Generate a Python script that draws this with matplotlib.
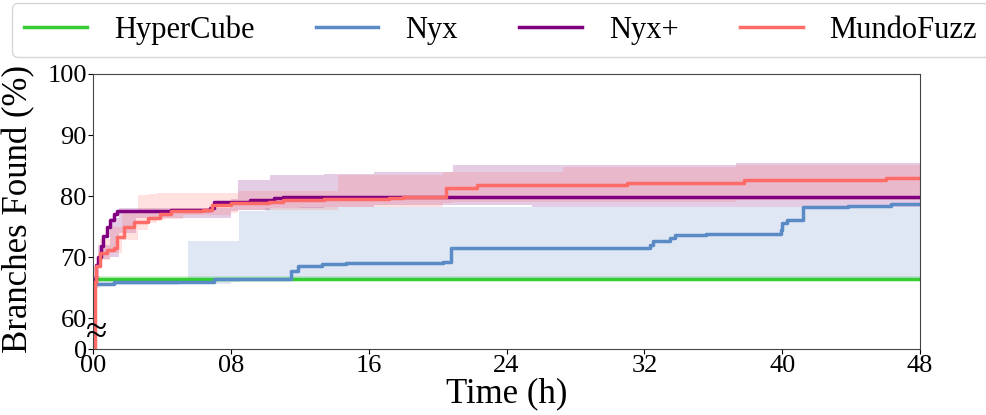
import matplotlib
matplotlib.use("Agg")
import matplotlib.pyplot as plt
import numpy as np

plt.rcParams['font.family'] = ['Liberation Serif', 'DejaVu Serif']

names = ["HyperCube", "Nyx", "Nyx+", "MundoFuzz"]
colors = ["#33cc33", "#5b8bc6", "#800080", "#ff6b66"]

# time (h) and median coverage (%)
hc_t = [0, 0.05, 48]
hc_y = [0, 66.5, 66.5]
hc_lo = [0, 66.2, 66.2]
hc_hi = [0, 66.9, 66.9]

nyx_t = [0, 0.05, 0.5, 1.2, 5.2, 7.0, 11.5, 11.9, 13.3, 14.7, 18.4, 20.3, 20.8, 22.6, 32.3, 32.5, 33.1, 33.5, 33.8,
         35.6, 39.9, 40.0, 40.3, 40.9, 41.2, 43.8, 46.3, 48]
nyx_y = [0, 65.7, 65.7, 65.9, 66.0, 66.5, 67.8, 68.5, 68.9, 69.1, 69.1, 69.3, 71.5, 71.6, 72.0, 72.6, 72.6, 73.1, 73.7,
         73.8, 74.4, 75.6, 76.1, 76.1, 78.3, 78.4, 78.7, 78.7]
nyx_band_t = [0, 0.05, 5.0, 5.5, 8.0, 8.5, 10.0, 12.0, 48]
nyx_lo = [0, 65.5, 65.6, 65.7, 65.9, 66.1, 66.2, 66.3, 66.3]
nyx_hi = [0, 66.2, 66.3, 72.6, 72.6, 77.5, 78.0, 78.3, 78.5]

nyxp_t = [0, 0.05, 0.15, 0.3, 0.45, 0.6, 0.8, 1.0, 1.2, 1.4, 4.5, 6.8, 7.0, 9.1, 10.5, 11.0, 48]
nyxp_y = [0, 66.5, 68.8, 70.1, 71.8, 73.5, 74.9, 76.1, 77.0, 77.6, 77.8, 78.0, 79.1, 79.4, 79.7, 79.9, 79.9]
nyxp_band_t = [0, 0.05, 0.3, 1.0, 1.5, 2.5, 8.0, 8.4, 10.3, 13.4, 16.3, 20.9, 25.5, 37.3, 48]
nyxp_lo = [0, 66.0, 69.8, 70.1, 74.0, 76.5, 77.5, 77.8, 78.0, 78.3, 78.5, 78.6, 78.3, 78.3, 78.3]
nyxp_hi = [0, 67.0, 72.0, 76.5, 78.1, 78.1, 79.5, 82.6, 83.5, 83.7, 84.0, 85.1, 85.1, 85.4, 85.4]

mf_t = [0, 0.1, 0.2, 0.4, 0.8, 1.2, 1.4, 1.8, 2.4, 3.2, 3.9, 4.5, 5.6, 6.4, 6.9, 8.0, 10.2, 11.0, 13.4, 17.2, 18.0,
        20.3, 20.5, 22.0, 22.3, 30.8, 31.0, 37.3, 37.8, 45.9, 46.0, 48]
mf_y = [0, 66.0, 68.5, 70.7, 71.2, 71.5, 73.4, 75.0, 75.8, 76.5, 77.1, 77.5, 77.6, 77.7, 78.6, 78.8, 79.1, 79.4, 79.5,
        79.7, 79.9, 79.9, 81.3, 81.3, 81.8, 81.8, 82.1, 82.1, 82.6, 82.6, 82.9, 82.9]
mf_band_t = [0, 0.1, 0.4, 1.0, 1.7, 2.6, 3.2, 3.7, 4.2, 5.2, 8.0, 8.4, 14.2, 20.3, 20.9, 27.3, 37.3, 48]
mf_lo = [0, 65.0, 69.5, 70.7, 72.8, 74.5, 75.6, 76.1, 76.3, 76.9, 77.3, 77.7, 78.3, 78.9, 79.1, 79.1, 79.3, 79.3]
mf_hi = [0, 67.0, 73.0, 75.0, 77.7, 80.2, 80.3, 80.5, 80.5, 80.5, 80.5, 80.8, 83.5, 84.0, 84.0, 84.8, 85.1, 85.1]


def squash(v):
    # values below 60 are drawn in the compressed band 55..60
    v = np.asarray(v, dtype=float)
    return np.where(v < 60, 55 + v * 5 / 60, v)


fig = plt.figure(figsize=(9.87, 4.15), dpi=100)
ax = fig.add_axes([0.0942, 0.159, 0.838, 0.663])

series = [
    (hc_t, hc_y, hc_t, hc_lo, hc_hi),
    (nyx_t, nyx_y, nyx_band_t, nyx_lo, nyx_hi),
    (nyxp_t, nyxp_y, nyxp_band_t, nyxp_lo, nyxp_hi),
    (mf_t, mf_y, mf_band_t, mf_lo, mf_hi),
]
for (t, y, bt, lo, hi), c, n in zip(series, colors, names):
    ax.fill_between(bt, squash(lo), squash(hi), step="post", color=c, alpha=0.2, lw=0)
    ax.plot(t, squash(y), color=c, lw=2.5, label=n, drawstyle="steps-post")

ax.set_xlim(0, 48)
ax.set_ylim(55, 100)
ax.set_xticks([0, 8, 16, 24, 32, 40, 48])
ax.set_xticklabels(["00", "08", "16", "24", "32", "40", "48"])
ax.set_yticks([55, 60, 70, 80, 90, 100])
ax.set_yticklabels(["0", "60", "70", "80", "90", "100"])
ax.tick_params(labelsize=19, pad=1)
ax.set_xlabel("Time (h)", fontsize=25, labelpad=0)
ax.set_ylabel("Branches Found (%)", fontsize=25)
ax.yaxis.set_label_coords(-0.07, 0.51)
for s in ax.spines.values():
    s.set_color("#444444")
ax.text(0.2, 57.6, "≈", fontsize=28, ha="center", va="center", clip_on=False)

fig.legend(loc="upper left", bbox_to_anchor=(0.012, 0.993), ncol=4, fontsize=22,
           handlelength=2.06, handletextpad=0.88, columnspacing=2.0, borderpad=0.4,
           borderaxespad=0, frameon=True)

fig.savefig("out.png", dpi=100)
